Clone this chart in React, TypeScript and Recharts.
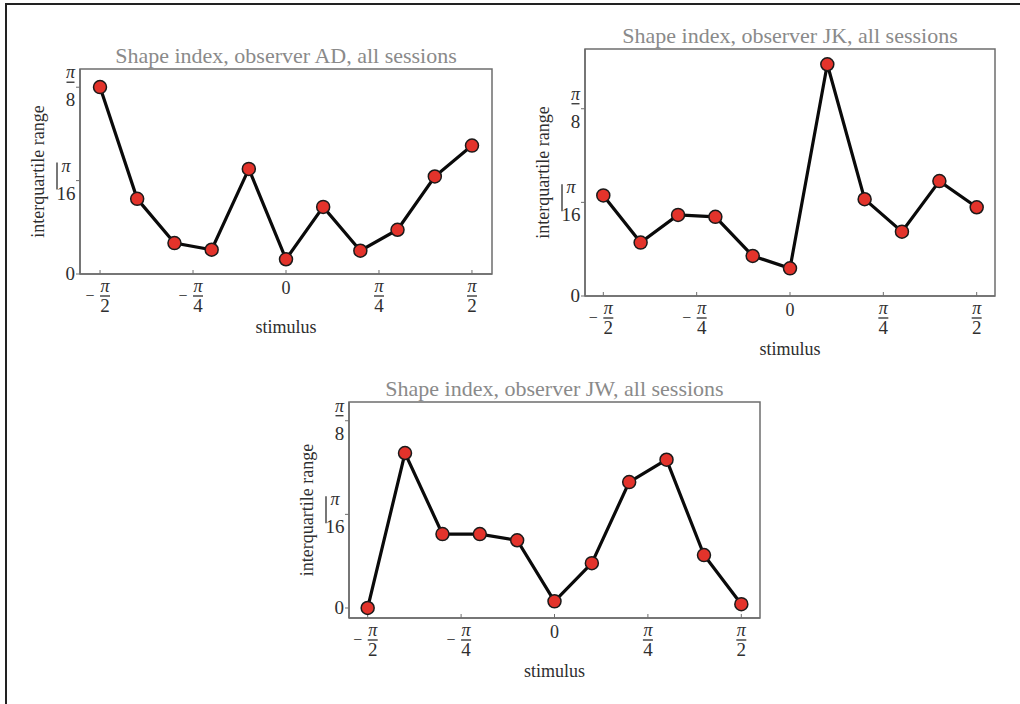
import React from "react";
import {
  LineChart,
  Line,
  XAxis,
  YAxis,
  ReferenceArea,
} from "recharts";

const PI = Math.PI;

// stimulus orientations (radians), -pi/2 .. pi/2
const STIMULUS = [-1.571, -1.257, -0.942, -0.628, -0.314, 0, 0.314, 0.628, 0.942, 1.257, 1.571];

// interquartile range (radians) per observer
const IQR_AD = [0.393, 0.158, 0.065, 0.051, 0.221, 0.031, 0.141, 0.049, 0.093, 0.205, 0.27];
const IQR_JK = [0.211, 0.112, 0.17, 0.166, 0.084, 0.058, 0.486, 0.203, 0.135, 0.241, 0.186];
const IQR_JW = [0.0, 0.325, 0.155, 0.155, 0.142, 0.014, 0.094, 0.264, 0.311, 0.111, 0.008];

const X_TICKS = [-PI / 2, -PI / 4, 0, PI / 4, PI / 2];
const X_TICK_LABELS = ["−π/2", "−π/4", "0", "π/4", "π/2"];
const Y_TICKS = [0, PI / 16, PI / 8];
const Y_TICK_LABELS = ["0", "π/16", "π/8"];

const FONT = "'Liberation Serif', 'DejaVu Serif', serif";
const TEXT = "#2e2e2e";
const FRAME = "#6e6e6e";

const findLabel = (ticks: number[], labels: string[], v: number) => {
  const i = ticks.findIndex((t) => Math.abs(t - v) < 1e-6);
  return i >= 0 ? labels[i] : "";
};

const XTick = (props: any) => {
  const { x, y, payload } = props;
  const label = findLabel(X_TICKS, X_TICK_LABELS, payload.value);
  if (!label.includes("/")) {
    return (
      <text x={x} y={y + 20} textAnchor="middle" fontSize={18} fontFamily={FONT} fill={TEXT}>
        {label}
      </text>
    );
  }
  const neg = label.startsWith("−");
  const [num, den] = (neg ? label.slice(1) : label).split("/");
  const cx = neg ? x + 5 : x;
  return (
    <g fontFamily={FONT} fill={TEXT}>
      {neg && (
        <text x={x - 10} y={y + 27} textAnchor="middle" fontSize={16}>
          −
        </text>
      )}
      <text x={cx} y={y + 18} textAnchor="middle" fontSize={18} fontStyle="italic">
        {num}
      </text>
      <line x1={cx - 5} x2={cx + 5} y1={y + 22} y2={y + 22} stroke={TEXT} strokeWidth={1.3} />
      <text x={cx} y={y + 38} textAnchor="middle" fontSize={19}>
        {den}
      </text>
    </g>
  );
};

const YTick = (props: any) => {
  const { x, y, payload } = props;
  const label = findLabel(Y_TICKS, Y_TICK_LABELS, payload.value);
  if (!label.includes("/")) {
    return (
      <text x={x + 1} y={y + 6} textAnchor="end" fontSize={19} fontFamily={FONT} fill={TEXT}>
        {label}
      </text>
    );
  }
  const [num, den] = label.split("/");
  const cx = x + 1 - den.length * 4.5;
  return (
    <g fontFamily={FONT} fill={TEXT}>
      <text x={cx} y={y - 9} textAnchor="middle" fontSize={18} fontStyle="italic">
        {num}
      </text>
      {den.length > 1 ? (
        <line x1={cx - 9} x2={cx - 9} y1={y - 18} y2={y + 9} stroke={TEXT} strokeWidth={1.3} />
      ) : (
        <line x1={cx - 4} x2={cx + 4} y1={y - 5} y2={y - 5} stroke={TEXT} strokeWidth={1.3} />
      )}
      <text x={cx} y={y + 19} textAnchor="middle" fontSize={19}>
        {den}
      </text>
    </g>
  );
};

interface PanelProps {
  title: string;
  values: number[];
  left: number;
  top: number;
  width: number;
  height: number;
  plotLeft: number;
  plotTop: number;
  plotRight: number;
  plotBottom: number;
  xDomain: [number, number];
  yDomain: [number, number];
}

const Panel: React.FC<PanelProps> = (p) => {
  const data = STIMULUS.map((x, i) => ({ x, y: p.values[i] }));
  const yAxisWidth = p.plotLeft - p.left;
  const xAxisHeight = p.top + p.height - p.plotBottom;
  const plotW = p.plotRight - p.plotLeft;
  const plotH = p.plotBottom - p.plotTop;

  return (
    <>
      <div
        style={{
          position: "absolute",
          left: p.plotLeft - 60,
          width: plotW + 120,
          top: p.plotTop - 25,
          height: 24,
          lineHeight: "24px",
          textAlign: "center",
          fontFamily: FONT,
          fontSize: 22,
          color: "#8a8a8a",
          whiteSpace: "nowrap",
        }}
      >
        {p.title}
      </div>
      <div style={{ position: "absolute", left: p.left, top: p.top }}>
        <LineChart
          width={p.width}
          height={p.height}
          data={data}
          margin={{ top: p.plotTop - p.top, right: p.left + p.width - p.plotRight, bottom: 0, left: 0 }}
        >
          <XAxis
            type="number"
            dataKey="x"
            domain={p.xDomain}
            ticks={X_TICKS}
            interval={0}
            allowDataOverflow
            height={xAxisHeight}
            tickSize={-4}
            tickMargin={4}
            tick={<XTick />}
            axisLine={{ stroke: FRAME, strokeWidth: 1.5 }}
            tickLine={{ stroke: FRAME }}
            label={{
              content: () => (
                <text
                  x={p.plotLeft - p.left + plotW / 2}
                  y={plotH + (p.plotTop - p.top) + 59}
                  textAnchor="middle"
                  fontFamily={FONT}
                  fontSize={18}
                  fill={TEXT}
                >
                  stimulus
                </text>
              ),
            }}
          />
          <YAxis
            type="number"
            domain={p.yDomain}
            ticks={Y_TICKS}
            interval={0}
            allowDataOverflow
            width={yAxisWidth}
            tickSize={4}
            tickMargin={2}
            tick={<YTick />}
            axisLine={{ stroke: FRAME, strokeWidth: 1.5 }}
            tickLine={{ stroke: FRAME }}
            label={{
              content: () => {
                const cx = p.plotLeft - p.left - 42;
                const cy = p.plotTop - p.top + plotH / 2;
                return (
                  <text
                    x={cx}
                    y={cy}
                    transform={`rotate(-90 ${cx} ${cy})`}
                    textAnchor="middle"
                    dominantBaseline="central"
                    fontFamily={FONT}
                    fontSize={18}
                    fill={TEXT}
                  >
                    interquartile range
                  </text>
                );
              },
            }}
          />
          <ReferenceArea
            x1={p.xDomain[0]}
            x2={p.xDomain[1]}
            y1={p.yDomain[0]}
            y2={p.yDomain[1]}
            fill="none"
            stroke={FRAME}
            strokeWidth={1.5}
            fillOpacity={0}
          />
          <Line
            type="linear"
            dataKey="y"
            stroke="#0a0a0a"
            strokeWidth={3.2}
            dot={{ r: 6.5, fill: "#e3332b", stroke: "#1a1a1a", strokeWidth: 1.5 }}
            isAnimationActive={false}
          />
        </LineChart>
      </div>
    </>
  );
};

export default function App() {
  return (
    <div
      style={{
        position: "absolute",
        left: 0,
        top: 0,
        width: 1020,
        height: 704,
        background: "#fff",
        overflow: "hidden",
      }}
    >
      <div
        style={{
          position: "absolute",
          left: 5,
          top: 3,
          width: 1030,
          height: 720,
          borderTop: "2.5px solid #222",
          borderLeft: "2.5px solid #222",
        }}
      />
      <Panel
        title="Shape index, observer AD, all sessions"
        values={IQR_AD}
        left={0}
        top={30}
        width={510}
        height={330}
        plotLeft={80}
        plotTop={69}
        plotRight={492}
        plotBottom={274}
        xDomain={[-1.74, 1.74]}
        yDomain={[0, 0.431]}
      />
      <Panel
        title="Shape index, observer JK, all sessions"
        values={IQR_JK}
        left={500}
        top={10}
        width={515}
        height={360}
        plotLeft={585}
        plotTop={49}
        plotRight={995}
        plotBottom={296}
        xDomain={[-1.725, 1.725]}
        yDomain={[0, 0.518]}
      />
      <Panel
        title="Shape index, observer JW, all sessions"
        values={IQR_JW}
        left={270}
        top={360}
        width={510}
        height={330}
        plotLeft={349}
        plotTop={402}
        plotRight={760}
        plotBottom={618}
        xDomain={[-1.728, 1.728]}
        yDomain={[-0.021, 0.432]}
      />
    </div>
  );
}
